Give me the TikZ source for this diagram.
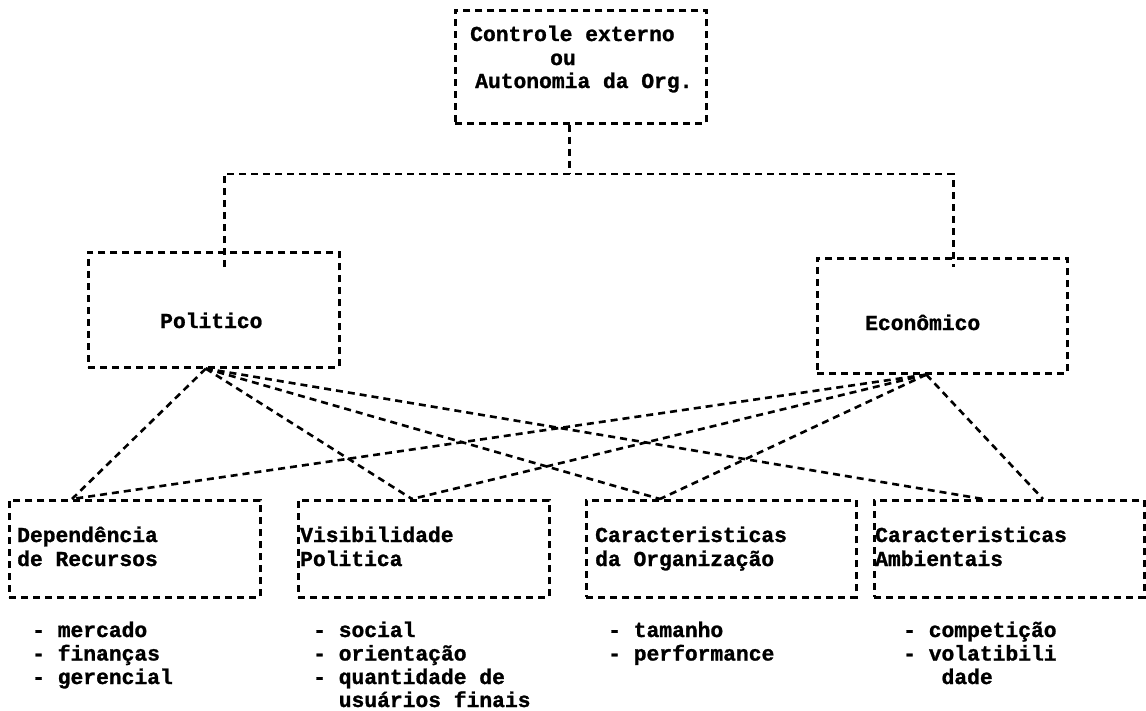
\documentclass[tikz,border=0pt]{standalone}
\usepackage{fontspec}
\setmonofont{Liberation Mono}[BoldFeatures={FakeBold=1.2}]
\begin{document}
\begin{tikzpicture}[x=1pt,y=-1pt,
  dash line/.style={line width=2.6pt, dash pattern=on 7pt off 5pt},
  frame/.style={draw, dash line, inner sep=0pt, anchor=north west},
  link/.style={dash line},
  txt/.style={anchor=base west, inner sep=0pt,
    font=\ttfamily\bfseries\fontsize{21.3}{24}\selectfont},
]
\useasboundingbox (0,0) rectangle (1146,710);

% boxes
\node[frame, minimum width=251pt, minimum height=113pt] (top) at (454,9) {};
\node[frame, minimum width=251pt, minimum height=115pt] (pol) at (87,251) {};
\node[frame, minimum width=250pt, minimum height=115pt] (eco) at (816,257) {};
\node[frame, minimum width=251pt, minimum height=97pt] (b1) at (8,499) {};
\node[frame, minimum width=251pt, minimum height=97pt] (b2) at (297,499) {};
\node[frame, minimum width=270pt, minimum height=97pt] (b3) at (585,499) {};
\node[frame, minimum width=270pt, minimum height=97pt] (b4) at (873,499) {};

% box texts
\node[txt] (topa) at (470,41) {Controle externo};
\node[txt] (topb) at (550,65) {ou};
\node[txt] (topc) at (475,88) {Autonomia da Org.};
\node[txt] (polt) at (160,328) {Politico};
\node[txt] (ecot) at (865,330) {Econômico};
\node[txt] (b1a) at (17,542) {Dependência};
\node[txt] (b1b) at (17,566) {de Recursos};
\node[txt] (b2a) at (300,542) {Visibilidade};
\node[txt] (b2b) at (300,566) {Politica};
\node[txt] (b3a) at (595,542) {Caracteristicas};
\node[txt] (b3b) at (595,566) {da Organização};
\node[txt] (b4a) at (875,542) {Caracteristicas};
\node[txt] (b4b) at (875,566) {Ambientais};

% lists under the boxes
\node[txt] (l1a) at (32,637) {- mercado};
\node[txt] (l1b) at (32,660.5) {- finanças};
\node[txt] (l1c) at (32,684) {- gerencial};
\node[txt] (l2a) at (313,637) {- social};
\node[txt] (l2b) at (313,660.5) {- orientação};
\node[txt] (l2c) at (313,684) {- quantidade de};
\node[txt] (l2d) at (338.6,707) {usuários finais};
\node[txt] (l3a) at (608,637) {- tamanho};
\node[txt] (l3b) at (608,660.5) {- performance};
\node[txt] (l4a) at (903,637) {- competição};
\node[txt] (l4b) at (903,660.5) {- volatibili};
\node[txt] (l4c) at (941.4,684) {dade};

% tree from the top box to the two branches
\coordinate (bus) at (0,174);
\coordinate (tj) at ([xshift=-11.5pt]top.south);
\coordinate (pj) at ([xshift=10.5pt,yshift=-16pt]pol.north);
\coordinate (ej) at ([xshift=11pt,yshift=-10pt]eco.north);
\draw[link] (tj) -- (tj |- bus);
\draw[link] (pj) -- (pj |- bus) -- (ej |- bus) -- (ej);

% crossing links to the four factors
\coordinate (p) at ([xshift=-8pt]pol.south);
\coordinate (e) at ([xshift=-16pt]eco.south);
\coordinate (f1) at ([xshift=64pt]b1.north west);
\coordinate (f2) at ([xshift=115pt]b2.north west);
\coordinate (f3) at ([xshift=75pt]b3.north west);
\coordinate (f4p) at ([xshift=110pt]b4.north west);
\coordinate (f4e) at ([xshift=170pt]b4.north west);
\draw[link] (p) -- (f1);
\draw[link] (p) -- (f2);
\draw[link] (p) -- (f3);
\draw[link] (p) -- (f4p);
\draw[link] (e) -- (f1);
\draw[link] (e) -- (f2);
\draw[link] (e) -- (f3);
\draw[link] (e) -- (f4e);
\end{tikzpicture}
\end{document}
